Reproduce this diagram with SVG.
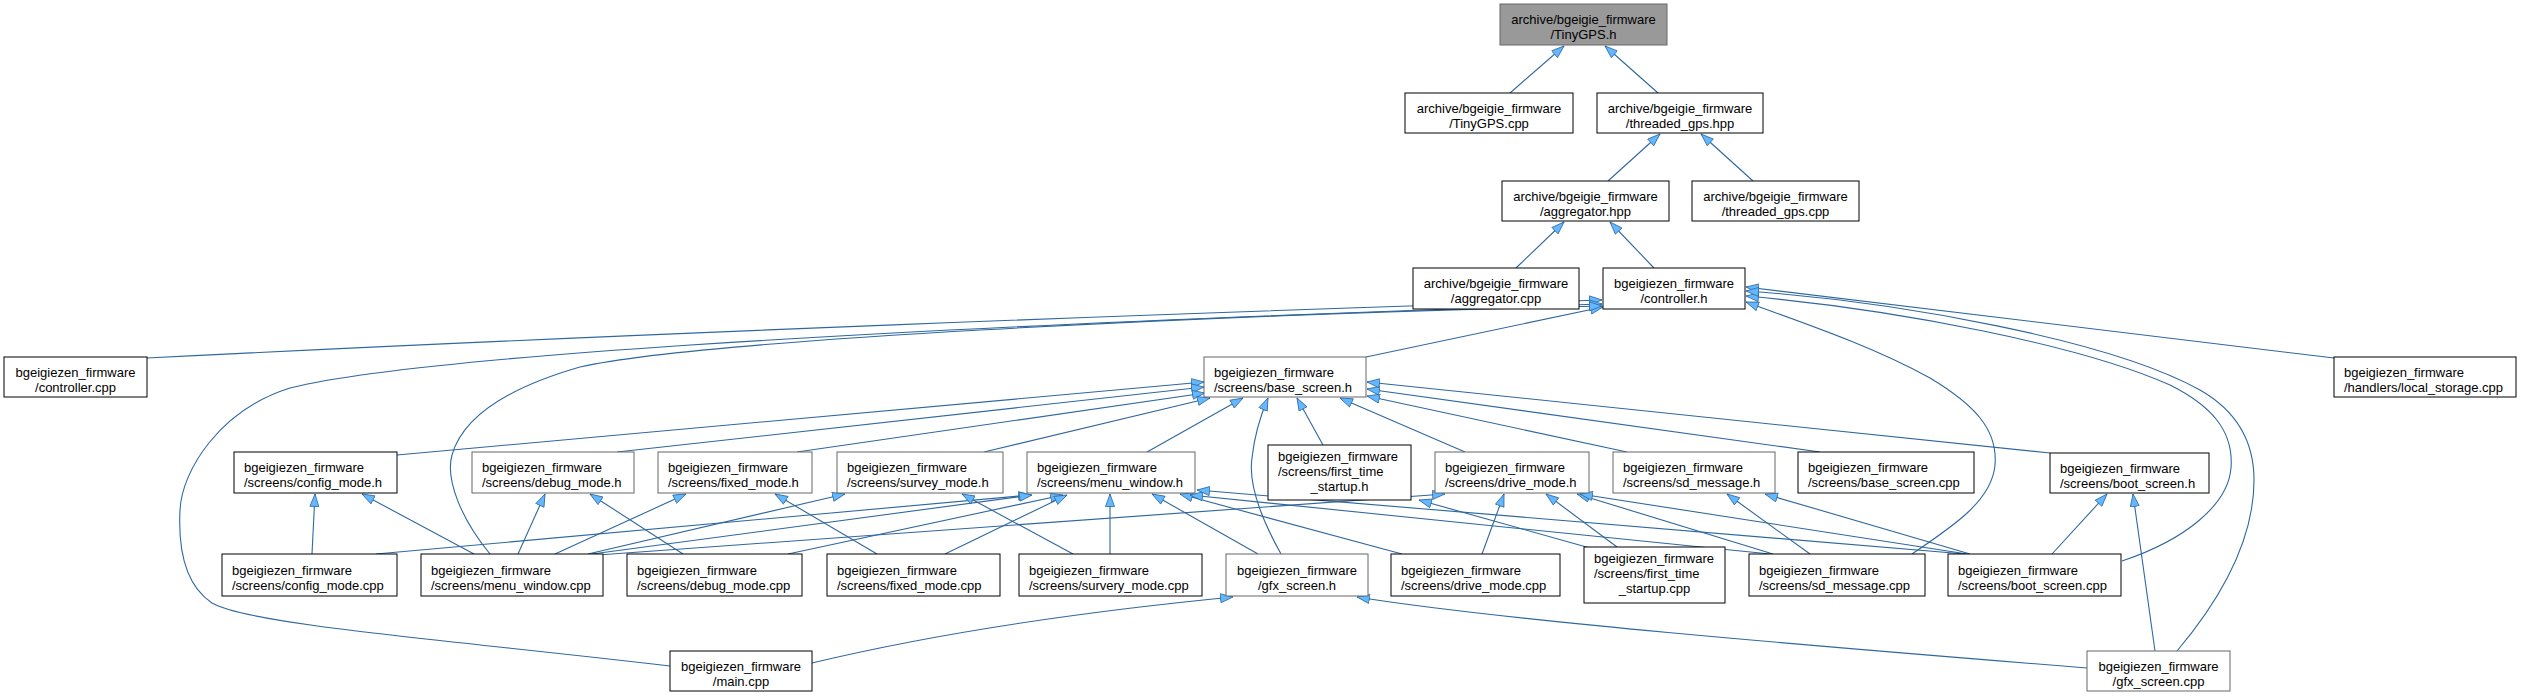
<svg xmlns="http://www.w3.org/2000/svg" width="2521" height="696" viewBox="0 0 2521 696">
<style>
.bg{fill:#ffffff}
rect.k{fill:#ffffff;stroke:#000000;stroke-width:1}
rect.g{fill:#ffffff;stroke:#666666;stroke-width:1}
rect.cur{fill:#999999;stroke:#666666;stroke-width:1}
text{font-family:"Liberation Sans",Arial,Helvetica,sans-serif;font-size:13px;fill:#000000}
text.c{text-anchor:middle}
#edges path{fill:none;stroke:#2f679f;stroke-width:1.1;marker-end:url(#ah)}
</style>
<defs>
<marker id="ah" markerUnits="userSpaceOnUse" markerWidth="14" markerHeight="11" refX="13" refY="5" orient="auto">
<path d="M0.5,0.5 L13,5 L0.5,9.5 Z" fill="#63B8FF" stroke="#2f679f" stroke-width="0.8"/>
</marker>
</defs>
<rect class="bg" x="0" y="0" width="2521" height="696"/>
<g id="edges">
<path d="M1510,93 L1564,46"/>
<path d="M1658,93 L1605,46"/>
<path d="M1608,181 L1660,134"/>
<path d="M1753,181 L1701,134"/>
<path d="M1516,268 L1564,222"/>
<path d="M1654,268 L1610,222"/>
<path d="M147,358 C600,335 1200,312 1602,300"/>
<path d="M1366,357 L1603,307"/>
<path d="M670,666 C450,640 250,625 212,603 C185,585 178,550 180,510 C182,470 220,410 290,388 C400,360 800,330 1602,304"/>
<path d="M490,554 C462,520 445,480 452,455 C462,420 500,390 580,367 C700,340 1200,315 1602,306"/>
<path d="M2334,358 C2100,330 1900,305 1746,287"/>
<path d="M1912,554 C1955,525 1992,500 1995,465 C1998,430 1975,405 1930,378 C1870,345 1800,322 1746,302"/>
<path d="M2122,561 C2185,540 2228,505 2231,468 C2234,430 2210,405 2170,385 C2080,345 1900,310 1746,296"/>
<path d="M2177,651 C2220,600 2254,540 2254,480 C2254,440 2235,410 2200,390 C2110,340 1900,302 1746,291"/>
<path d="M397,455 L1204,382"/>
<path d="M617,452 L1204,387"/>
<path d="M797,452 L1205,393"/>
<path d="M984,452 L1210,398"/>
<path d="M1147,452 L1243,398"/>
<path d="M1281,554 C1262,520 1248,485 1252,458 C1255,430 1262,412 1268,398"/>
<path d="M1323,445 L1297,398"/>
<path d="M1465,452 L1340,398"/>
<path d="M1627,452 L1367,396"/>
<path d="M1820,452 L1367,389"/>
<path d="M2050,453 L1367,382"/>
<path d="M312,554 L315,494"/>
<path d="M376,554 L1031,495"/>
<path d="M474,554 L362,494"/>
<path d="M518,554 L545,494"/>
<path d="M555,554 L686,494"/>
<path d="M588,554 L845,494"/>
<path d="M592,554 L1032,495"/>
<path d="M598,555 L1445,494"/>
<path d="M683,554 L590,494"/>
<path d="M788,554 L1063,495"/>
<path d="M877,554 L775,494"/>
<path d="M945,554 L1067,495"/>
<path d="M1073,554 L962,494"/>
<path d="M1110,554 L1110,494"/>
<path d="M1258,554 L1152,494"/>
<path d="M1402,554 L1180,494"/>
<path d="M1482,554 L1504,494"/>
<path d="M1590,548 L1419,500"/>
<path d="M1617,547 L1546,494"/>
<path d="M1810,554 L1727,494"/>
<path d="M1773,554 L1577,494"/>
<path d="M1770,554 L1190,495"/>
<path d="M1970,554 L1765,494"/>
<path d="M1967,554 L1580,494"/>
<path d="M1965,554 L1197,490"/>
<path d="M2052,554 L2107,494"/>
<path d="M2155,651 L2133,494"/>
<path d="M2087,668 C1800,645 1500,620 1357,597"/>
<path d="M812,663 C950,630 1100,610 1233,597"/>
</g>
<g id="n_tinygps_h"><rect class="cur" x="1500" y="4" width="167" height="41"/><text class="c" x="1583.5" y="24">archive/bgeigie_firmware</text><text class="c" x="1583.5" y="39">/TinyGPS.h</text></g>
<g id="n_tinygps_cpp"><rect class="k" x="1405" y="93" width="168" height="40"/><text class="c" x="1489" y="113">archive/bgeigie_firmware</text><text class="c" x="1489" y="128">/TinyGPS.cpp</text></g>
<g id="n_threaded_gps_hpp"><rect class="k" x="1597" y="93" width="166" height="40"/><text class="c" x="1680" y="113">archive/bgeigie_firmware</text><text class="c" x="1680" y="128">/threaded_gps.hpp</text></g>
<g id="n_aggregator_hpp"><rect class="k" x="1502" y="181" width="167" height="40"/><text class="c" x="1585.5" y="201">archive/bgeigie_firmware</text><text class="c" x="1585.5" y="216">/aggregator.hpp</text></g>
<g id="n_threaded_gps_cpp"><rect class="k" x="1692" y="181" width="167" height="40"/><text class="c" x="1775.5" y="201">archive/bgeigie_firmware</text><text class="c" x="1775.5" y="216">/threaded_gps.cpp</text></g>
<g id="n_aggregator_cpp"><rect class="k" x="1413" y="268" width="166" height="41"/><text class="c" x="1496" y="288">archive/bgeigie_firmware</text><text class="c" x="1496" y="303">/aggregator.cpp</text></g>
<g id="n_controller_h"><rect class="k" x="1603" y="268" width="142" height="41"/><text class="c" x="1674" y="288">bgeigiezen_firmware</text><text class="c" x="1674" y="303">/controller.h</text></g>
<g id="n_controller_cpp"><rect class="k" x="4" y="357" width="143" height="40"/><text class="c" x="75.5" y="377">bgeigiezen_firmware</text><text class="c" x="75.5" y="392">/controller.cpp</text></g>
<g id="n_base_screen_h"><rect class="g" x="1204" y="357" width="162" height="40"/><text x="1214" y="377">bgeigiezen_firmware</text><text x="1214" y="392">/screens/base_screen.h</text></g>
<g id="n_local_storage_cpp"><rect class="k" x="2334" y="357" width="182" height="40"/><text x="2344" y="377">bgeigiezen_firmware</text><text x="2344" y="392">/handlers/local_storage.cpp</text></g>
<g id="n_config_mode_h"><rect class="k" x="234" y="452" width="163" height="41"/><text x="244" y="472">bgeigiezen_firmware</text><text x="244" y="487">/screens/config_mode.h</text></g>
<g id="n_debug_mode_h"><rect class="g" x="472" y="452" width="162" height="41"/><text x="482" y="472">bgeigiezen_firmware</text><text x="482" y="487">/screens/debug_mode.h</text></g>
<g id="n_fixed_mode_h"><rect class="g" x="658" y="452" width="154" height="41"/><text x="668" y="472">bgeigiezen_firmware</text><text x="668" y="487">/screens/fixed_mode.h</text></g>
<g id="n_survey_mode_h"><rect class="g" x="837" y="452" width="166" height="41"/><text x="847" y="472">bgeigiezen_firmware</text><text x="847" y="487">/screens/survey_mode.h</text></g>
<g id="n_menu_window_h"><rect class="g" x="1027" y="452" width="168" height="41"/><text x="1037" y="472">bgeigiezen_firmware</text><text x="1037" y="487">/screens/menu_window.h</text></g>
<g id="n_first_time_startup_h"><rect class="k" x="1268" y="445" width="143" height="55"/><text x="1278" y="461">bgeigiezen_firmware</text><text x="1278" y="476">/screens/first_time</text><text class="c" x="1339.5" y="491">_startup.h</text></g>
<g id="n_drive_mode_h"><rect class="g" x="1435" y="452" width="154" height="41"/><text x="1445" y="472">bgeigiezen_firmware</text><text x="1445" y="487">/screens/drive_mode.h</text></g>
<g id="n_sd_message_h"><rect class="g" x="1613" y="452" width="162" height="41"/><text x="1623" y="472">bgeigiezen_firmware</text><text x="1623" y="487">/screens/sd_message.h</text></g>
<g id="n_base_screen_cpp"><rect class="k" x="1798" y="452" width="176" height="41"/><text x="1808" y="472">bgeigiezen_firmware</text><text x="1808" y="487">/screens/base_screen.cpp</text></g>
<g id="n_boot_screen_h"><rect class="k" x="2050" y="453" width="159" height="40"/><text x="2060" y="473">bgeigiezen_firmware</text><text x="2060" y="488">/screens/boot_screen.h</text></g>
<g id="n_config_mode_cpp"><rect class="k" x="222" y="554" width="175" height="42"/><text x="232" y="575">bgeigiezen_firmware</text><text x="232" y="590">/screens/config_mode.cpp</text></g>
<g id="n_menu_window_cpp"><rect class="k" x="421" y="554" width="182" height="42"/><text x="431" y="575">bgeigiezen_firmware</text><text x="431" y="590">/screens/menu_window.cpp</text></g>
<g id="n_debug_mode_cpp"><rect class="k" x="627" y="554" width="175" height="42"/><text x="637" y="575">bgeigiezen_firmware</text><text x="637" y="590">/screens/debug_mode.cpp</text></g>
<g id="n_fixed_mode_cpp"><rect class="k" x="827" y="554" width="173" height="42"/><text x="837" y="575">bgeigiezen_firmware</text><text x="837" y="590">/screens/fixed_mode.cpp</text></g>
<g id="n_survery_mode_cpp"><rect class="k" x="1019" y="554" width="183" height="42"/><text x="1029" y="575">bgeigiezen_firmware</text><text x="1029" y="590">/screens/survery_mode.cpp</text></g>
<g id="n_gfx_screen_h"><rect class="g" x="1226" y="554" width="142" height="42"/><text class="c" x="1297" y="575">bgeigiezen_firmware</text><text class="c" x="1297" y="590">/gfx_screen.h</text></g>
<g id="n_drive_mode_cpp"><rect class="k" x="1391" y="554" width="169" height="42"/><text x="1401" y="575">bgeigiezen_firmware</text><text x="1401" y="590">/screens/drive_mode.cpp</text></g>
<g id="n_first_time_startup_cpp"><rect class="k" x="1584" y="547" width="141" height="56"/><text x="1594" y="563">bgeigiezen_firmware</text><text x="1594" y="578">/screens/first_time</text><text class="c" x="1654.5" y="593">_startup.cpp</text></g>
<g id="n_sd_message_cpp"><rect class="k" x="1749" y="554" width="176" height="42"/><text x="1759" y="575">bgeigiezen_firmware</text><text x="1759" y="590">/screens/sd_message.cpp</text></g>
<g id="n_boot_screen_cpp"><rect class="k" x="1948" y="554" width="173" height="42"/><text x="1958" y="575">bgeigiezen_firmware</text><text x="1958" y="590">/screens/boot_screen.cpp</text></g>
<g id="n_main_cpp"><rect class="k" x="670" y="651" width="142" height="40"/><text class="c" x="741" y="671">bgeigiezen_firmware</text><text class="c" x="741" y="686">/main.cpp</text></g>
<g id="n_gfx_screen_cpp"><rect class="g" x="2087" y="651" width="143" height="40"/><text class="c" x="2158.5" y="671">bgeigiezen_firmware</text><text class="c" x="2158.5" y="686">/gfx_screen.cpp</text></g>
</svg>
